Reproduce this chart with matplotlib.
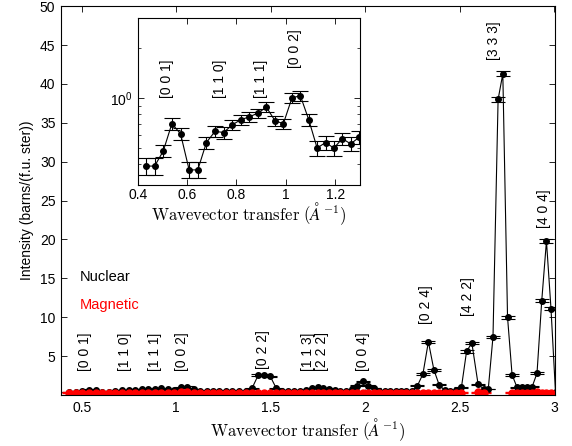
import numpy as np
import matplotlib.pyplot as plt
from matplotlib.ticker import FormatStrFormatter, NullFormatter

plt.rcParams['font.family'] = ['Liberation Sans', 'DejaVu Sans']
plt.rcParams['mathtext.fontset'] = 'cm'
plt.rcParams['font.size'] = 10

nan = np.nan

# wavevector transfer (1/A)
q = [0.433, 0.468, 0.503, 0.538, 0.573, 0.608, 0.643, 0.678, 0.713, 0.748,
     0.783, 0.818, 0.852, 0.887, 0.921, 0.956, 0.990, 1.025, 1.059, 1.093,
     1.127, 1.161, 1.195, 1.229, 1.263, 1.297,
     1.333, 1.368, 1.401, 1.434, 1.466, 1.498, 1.530, 1.562, 1.594, 1.625,
     1.656, 1.687, 1.718, 1.749, 1.779, 1.809, 1.839, 1.869, 1.899, 1.929,
     1.958, 1.987, 2.016, 2.045, 2.074, 2.103, 2.132, 2.161, 2.190, 2.219,
     2.248,
     2.277, 2.306, 2.335, 2.364, 2.392, 2.421, 2.451, 2.480, 2.510, 2.537,
     2.565, 2.598, 2.628, 2.652, 2.677, 2.704, 2.729, 2.754, 2.778, 2.804,
     2.830, 2.857, 2.884, 2.910, 2.935, 2.960, 2.984, 3.008]

nuclear = [0.39, 0.39, 0.48, 0.70, 0.61, 0.37, 0.37, 0.54, 0.63, 0.62,
           0.69, 0.74, 0.77, 0.81, 0.88, 0.73, 0.70, 1.00, 1.03, 0.74,
           0.50, 0.54, 0.50, 0.57, 0.53, 0.58,
           0.52, 0.50, 0.85, 2.55, 2.60, 2.40, 0.85, 0.55, 0.50, 0.52,
           0.55, 0.60, 0.90, 1.00, 0.90, 0.80, 0.60, 0.50, 0.55, 0.75,
           1.20, 1.75, 1.20, 0.90, 0.55, 0.50, 0.50, 0.48, 0.50, 0.52,
           0.55,
           1.20, 2.70, 6.85, 3.25, 1.30, 0.60, 0.50, 0.60, 1.00, 5.60,
           6.70, 1.40, 0.77, 0.77, 7.50, 38.0, 41.3, 10.0, 2.60, 1.00,
           1.00, 1.00, 1.05, 2.80, 12.1, 19.8, 11.1, 0.30]

nuclear_err = [0.045, 0.045, 0.04, 0.06, 0.05, 0.04, 0.04, 0.045, 0.05, 0.05,
               0.05, 0.05, 0.05, 0.05, 0.06, 0.05, 0.05, 0.07, 0.07, 0.06,
               0.05, 0.05, 0.05, 0.05, 0.05, 0.05,
               0.05, 0.05, 0.06, 0.10, 0.10, 0.10, 0.06, 0.05, 0.05, 0.05,
               0.05, 0.05, 0.06, 0.06, 0.06, 0.06, 0.05, 0.05, 0.05, 0.06,
               0.08, 0.10, 0.08, 0.06, 0.05, 0.05, 0.05, 0.05, 0.05, 0.05,
               0.05,
               0.07, 0.10, 0.15, 0.12, 0.07, 0.05, 0.05, 0.05, 0.06, 0.15,
               0.15, 0.08, 0.06, 0.06, 0.15, 0.30, 0.30, 0.18, 0.10, 0.06,
               0.06, 0.06, 0.06, 0.10, 0.20, 0.25, 0.20, 0.05]

magnetic = [0.30, 0.28, 0.32, 0.30, 0.27, 0.25, 0.28, 0.30, 0.31, 0.29,
            0.30, 0.32, 0.30, 0.28, 0.30, 0.31, 0.29, 0.33, 0.34, 0.30,
            0.28, 0.27, 0.29, 0.30, 0.28, 0.27,
            0.28, 0.30, 0.29, 0.31, 0.30, 0.28, 0.27, 0.29, 0.30, 0.28,
            0.27, 0.29, 0.30, 0.31, 0.29, 0.28, 0.27, 0.28, 0.30, 0.29,
            0.31, 0.30, 0.28, 0.27, 0.29, 0.30, 0.28, 0.27, 0.29, 0.30,
            0.28,
            0.30, 0.31, 0.29, 0.28, 0.27, 0.30, 0.32, 0.29, 0.31, nan,
            nan, 0.33, 0.30, nan, nan, nan, nan, nan, 0.28, 0.32,
            0.30, 0.27, 0.31, 0.33, 0.29, 0.30, 0.28, nan]

magnetic_err = [0.08] * 77 + [0.14] * 8

peak_labels = ['[0 0 1]', '[1 1 0]', '[1 1 1]', '[0 0 2]', '[0 2 2]',
               '[1 1 3]\n[2 2 2]', '[0 0 4]', '[0 2 4]', '[4 2 2]',
               '[3 3 3]', '[4 0 4]']
peak_x = [0.517, 0.729, 0.889, 1.032, 1.462, 1.737, 1.987, 2.321, 2.544,
          2.682, 2.947]
peak_y = [3.1, 3.1, 3.1, 3.1, 3.4, 3.1, 3.1, 9.1, 10.1, 43.1, 21.5]

inset_labels = ['[0 0 1]', '[1 1 0]', '[1 1 1]', '[0 0 2]']
inset_x = [0.518, 0.735, 0.900, 1.037]
inset_y = [1.0, 1.0, 1.0, 1.5]

xlabel = r'$\mathrm{Wavevector\ transfer}\ (\AA^{-1})$'


def style_axes(ax):
    ax.tick_params(direction='in', top=True, right=True, length=4,
                   width=0.6, labelsize=10, pad=4)
    ax.tick_params(which='minor', direction='in', top=True, right=True,
                   length=2, width=0.5)
    for s in ax.spines.values():
        s.set_linewidth(0.8)


fig = plt.figure(figsize=(5.72, 4.46), dpi=100)
ax = fig.add_axes([0.1066, 0.1143, 0.8636, 0.872])

ax.errorbar(q, nuclear, yerr=nuclear_err, fmt='-o', color='black', ms=4,
            lw=0.8, elinewidth=0.8, capsize=5, capthick=0.8)
ax.errorbar(q, magnetic, yerr=magnetic_err, fmt='-o', color='red', ms=5,
            lw=2, elinewidth=1, capsize=5, capthick=1)

for lab, x, y in zip(peak_labels, peak_x, peak_y):
    ax.text(x, y, lab, rotation=90, ha='center', va='bottom', fontsize=10,
            linespacing=1.0)

ax.text(0.038, 0.303, 'Nuclear', color='black', fontsize=10.5,
        transform=ax.transAxes, va='center')
ax.text(0.038, 0.231, 'Magnetic', color='red', fontsize=10.5,
        transform=ax.transAxes, va='center')

ax.set_xlim(0.39, 3.005)
ax.set_ylim(0, 50)
ax.set_xticks([0.5, 1, 1.5, 2, 2.5, 3])
ax.xaxis.set_major_formatter(FormatStrFormatter('%g'))
ax.set_yticks(np.arange(5, 51, 5))
ax.set_xlabel(xlabel, fontsize=12, labelpad=1)
ax.set_ylabel('Intensity (barns/(f.u. ster))', fontsize=10, labelpad=4)
style_axes(ax)

# inset, log scale
ins = fig.add_axes([0.241, 0.585, 0.388, 0.374])
ins.errorbar(q, nuclear, yerr=nuclear_err, fmt='-o', color='black', ms=4,
             lw=0.8, elinewidth=0.8, capsize=6, capthick=0.8)
for lab, x, y in zip(inset_labels, inset_x, inset_y):
    ins.text(x, y, lab, rotation=90, ha='center', va='bottom', fontsize=10)
ins.set_yscale('log')
ins.set_xlim(0.4, 1.3)
ins.set_ylim(0.3, 3)
ins.set_xticks([0.4, 0.6, 0.8, 1.0, 1.2])
ins.xaxis.set_major_formatter(FormatStrFormatter('%g'))
ins.set_yticks([1])
ins.yaxis.set_minor_formatter(NullFormatter())
style_axes(ins)
ins.tick_params(axis='x', pad=2)
ins.set_xlabel(xlabel, fontsize=12, labelpad=-1)

fig.savefig('out.png', dpi=100)
